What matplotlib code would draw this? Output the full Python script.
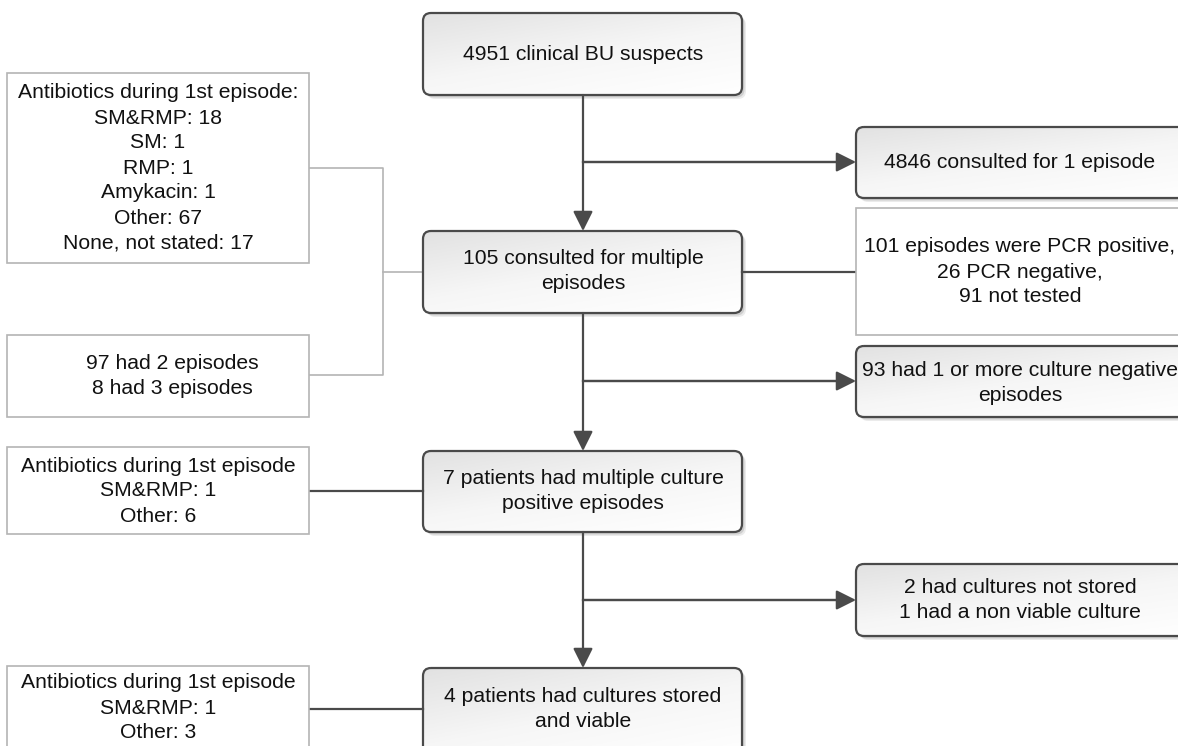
import numpy as np
import matplotlib
matplotlib.use('Agg')
import matplotlib.pyplot as plt
from matplotlib.patches import FancyBboxPatch, Rectangle
from matplotlib.colors import LinearSegmentedColormap

plt.rcParams['font.family'] = ['Liberation Sans', 'DejaVu Sans']

# box texts
main_texts = ['4951 clinical BU suspects',
              '105 consulted for multiple\nepisodes',
              '7 patients had multiple culture\npositive episodes',
              '4 patients had cultures stored\nand viable']
excluded_texts = ['4846 consulted for 1 episode',
                  '93 had 1 or more culture negative\nepisodes',
                  '2 had cultures not stored\n1 had a non viable culture']
pcr_text = '101 episodes were PCR positive,\n26 PCR negative,\n91 not tested'
side_texts = ['Antibiotics during 1st episode:\nSM&RMP: 18\nSM: 1\nRMP: 1\nAmykacin: 1\nOther: 67\nNone, not stated: 17',
              '97 had 2 episodes\n8 had 3 episodes',
              'Antibiotics during 1st episode\nSM&RMP: 1\nOther: 6',
              'Antibiotics during 1st episode\nSM&RMP: 1\nOther: 3']

# layout (pixels, y down)
main_x0, main_x1 = 423, 742
main_y = [(13, 95), (231, 313), (451, 532), (668, 760)]
main_ty = [54, 271, 491, 709]
right_x0, right_x1 = 856, 1200
excl_y = [(127, 198), (346, 417), (564, 636)]
excl_ty = [162, 383, 600]
branch_y = [162, 381, 600]
side_x0, side_x1 = 7, 309
side_y = [(73, 263), (335, 417), (447, 534), (666, 760)]
side_ty = [168, 376, 491, 708]
side_tx = [158, 172, 158, 158]
cx = 583

dark = '#4a4a4a'
light = '#b4b4b4'
fs = 15.2
ls = 1.4

fig = plt.figure(figsize=(11.78, 7.46), dpi=100)
ax = fig.add_axes([0, 0, 1, 1])

grad_cmap = LinearSegmentedColormap.from_list('g', ['#e2e2e2', '#f6f6f6', '#ffffff'])


def rounded_box(x0, x1, y0, y1, text, tx, ty):
    w, h = x1 - x0, y1 - y0
    for off, a in [(4, 0.08), (2.5, 0.12)]:
        sh = FancyBboxPatch((x0 + off, y0 + off), w, h,
                            boxstyle='round,pad=0,rounding_size=8',
                            fc='#000000', ec='none', alpha=a, zorder=1)
        ax.add_patch(sh)
    base = FancyBboxPatch((x0, y0), w, h, boxstyle='round,pad=0,rounding_size=8',
                          fc='white', ec='none', zorder=1.5)
    ax.add_patch(base)
    box = FancyBboxPatch((x0, y0), w, h, boxstyle='round,pad=0,rounding_size=8',
                         fc='none', ec=dark, lw=1.6, zorder=3)
    ax.add_patch(box)
    gy, gx = np.mgrid[0:1:50j, 0:1:80j]
    g = (gy * 0.6 + gx * 0.4)
    im = ax.imshow(g, cmap=grad_cmap, extent=(x0, x1, y1, y0), origin='upper',
                   aspect='auto', zorder=2, interpolation='bilinear')
    im.set_clip_path(box)
    ax.text(tx, ty, text, ha='center', va='center', fontsize=fs,
            linespacing=ls, color='#111111', zorder=4)


def plain_box(x0, x1, y0, y1, text, tx, ty):
    ax.add_patch(Rectangle((x0, y0), x1 - x0, y1 - y0, fc='white', ec=light,
                           lw=1.2, zorder=3))
    ax.text(tx, ty, text, ha='center', va='center', fontsize=fs,
            linespacing=ls, color='#111111', zorder=4)


def arrow(x0, y0, x1, y1):
    ax.annotate('', xy=(x1, y1), xytext=(x0, y0),
                arrowprops=dict(arrowstyle='-|>,head_length=1.2,head_width=0.6',
                                mutation_scale=10, color=dark, lw=1.6,
                                shrinkA=0, shrinkB=0), zorder=2)


for (y0, y1), t, ty in zip(main_y, main_texts, main_ty):
    rounded_box(main_x0, main_x1, y0, y1, t, cx, ty)
for (y0, y1), t, ty in zip(excl_y, excluded_texts, excl_ty):
    rounded_box(right_x0, right_x1, y0, y1, t, 1020, ty)
plain_box(right_x0, right_x1, 208, 335, pcr_text, 1020, 272)
for (y0, y1), t, tx, ty in zip(side_y, side_texts, side_tx, side_ty):
    plain_box(side_x0, side_x1, y0, y1, t, tx, ty)

# main flow
for i in range(3):
    arrow(cx, main_y[i][1], cx, main_y[i + 1][0])
    ax.plot([cx, right_x0 - 14], [branch_y[i]] * 2, color=dark, lw=1.6, zorder=2)
    arrow(cx, branch_y[i], right_x0, branch_y[i])

# box B to PCR box
ax.plot([main_x1, right_x0], [272, 272], color=dark, lw=1.6, zorder=2)

# bracket from first two side boxes
ax.plot([side_x1, 383, 383, side_x1], [168, 168, 375, 375], color=light, lw=1.2, zorder=2)
ax.plot([383, main_x0], [272, 272], color=light, lw=1.2, zorder=2)

# lower side boxes
ax.plot([side_x1, main_x0], [491, 491], color=dark, lw=1.6, zorder=2)
ax.plot([side_x1, main_x0], [709, 709], color=dark, lw=1.6, zorder=2)

ax.set_xlim(0, 1178)
ax.set_ylim(746, 0)
ax.axis('off')
fig.savefig('out.png', dpi=100, facecolor='white')
